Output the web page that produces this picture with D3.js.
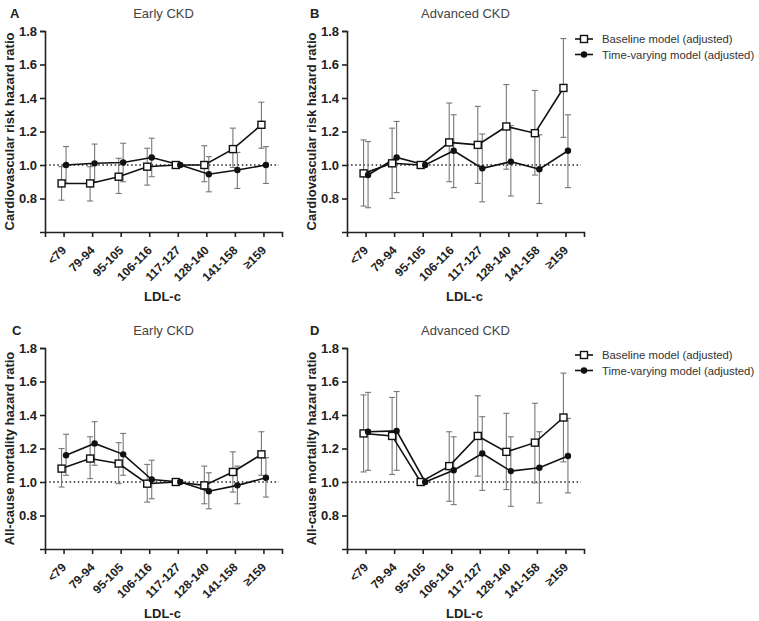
<!DOCTYPE html>
<html>
<head>
<meta charset="utf-8">
<script src="https://cdn.jsdelivr.net/npm/d3@7"></script>
<style>
    body { margin: 0; background: #fff; }
    svg { font-family: "Liberation Sans", Arial, sans-serif; }
</style>
</head>
<body>
<div class="chart-container"></div>
<script>
// LDL-c groups
const categories = ['<79', '79-94', '95-105', '106-116', '117-127', '128-140', '141-158', '≥159']
const yTicks = [0.8, 1.0, 1.2, 1.4, 1.6, 1.8]

// A - cardiovascular risk, early CKD
const cvEarlyBase = [0.89, 0.89, 0.93, 0.99, 1.00, 1.00, 1.095, 1.24]
const cvEarlyBaseLo = [0.79, 0.785, 0.83, 0.88, 1.00, 0.90, 0.985, 1.10]
const cvEarlyBaseHi = [0.99, 0.99, 1.04, 1.10, 1.00, 1.115, 1.22, 1.375]
const cvEarlyTv = [1.00, 1.01, 1.015, 1.045, 1.00, 0.945, 0.97, 1.00]
const cvEarlyTvLo = [0.89, 0.90, 0.90, 0.93, 1.00, 0.84, 0.86, 0.89]
const cvEarlyTvHi = [1.11, 1.125, 1.13, 1.16, 1.00, 1.05, 1.075, 1.11]

// B - cardiovascular risk, advanced CKD
const cvAdvBase = [0.95, 1.01, 1.00, 1.135, 1.12, 1.23, 1.19, 1.46]
const cvAdvBaseLo = [0.755, 0.80, 1.00, 0.90, 0.89, 0.975, 0.94, 1.165]
const cvAdvBaseHi = [1.15, 1.22, 1.00, 1.37, 1.35, 1.48, 1.445, 1.755]
const cvAdvTv = [0.94, 1.045, 1.00, 1.085, 0.98, 1.02, 0.975, 1.085]
const cvAdvTvLo = [0.745, 0.835, 1.00, 0.865, 0.78, 0.815, 0.77, 0.865]
const cvAdvTvHi = [1.14, 1.26, 1.00, 1.30, 1.185, 1.235, 1.18, 1.30]

// C - all-cause mortality, early CKD
const mortEarlyBase = [1.08, 1.14, 1.11, 0.99, 1.00, 0.98, 1.06, 1.165]
const mortEarlyBaseLo = [0.97, 1.02, 0.99, 0.88, 1.00, 0.87, 0.94, 1.04]
const mortEarlyBaseHi = [1.20, 1.27, 1.235, 1.105, 1.00, 1.095, 1.18, 1.30]
const mortEarlyTv = [1.16, 1.23, 1.165, 1.015, 1.00, 0.945, 0.98, 1.025]
const mortEarlyTvLo = [1.04, 1.10, 1.04, 0.90, 1.00, 0.84, 0.87, 0.91]
const mortEarlyTvHi = [1.285, 1.36, 1.29, 1.13, 1.00, 1.055, 1.095, 1.145]

// D - all-cause mortality, advanced CKD
const mortAdvBase = [1.29, 1.275, 1.00, 1.095, 1.275, 1.18, 1.235, 1.385]
const mortAdvBaseLo = [1.06, 1.045, 1.00, 0.885, 1.035, 0.955, 0.995, 1.12]
const mortAdvBaseHi = [1.52, 1.505, 1.00, 1.30, 1.515, 1.41, 1.47, 1.65]
const mortAdvTv = [1.30, 1.305, 1.00, 1.07, 1.17, 1.065, 1.085, 1.155]
const mortAdvTvLo = [1.07, 1.07, 1.00, 0.865, 0.95, 0.855, 0.875, 0.935]
const mortAdvTvHi = [1.535, 1.54, 1.00, 1.27, 1.39, 1.27, 1.30, 1.38]

const legendLabels = ['Baseline model (adjusted)', 'Time-varying model (adjusted)']

const svg = d3.select(".chart-container")
    .append('svg')
    .attr('width', 759)
    .attr('height', 621)

const panelDims = { width: 237, height: 201 }

function toRows(mid, lo, hi) {
    return categories.map((c, i) => ({ cat: c, v: mid[i], lo: lo[i], hi: hi[i] }))
}

function drawPanel(opts) {
    const g = svg.append('g')
        .attr('transform', `translate(${opts.left},${opts.top})`)

    const xScale = d3.scalePoint()
        .domain(categories)
        .range([0, panelDims.width])
        .padding(0.65)

    const yScale = d3.scaleLinear()
        .domain([0.6, 1.8])
        .range([panelDims.height, 0])

    // reference line at HR = 1
    g.append('line')
        .attr('x1', 0)
        .attr('x2', panelDims.width - 3)
        .attr('y1', yScale(1))
        .attr('y2', yScale(1))
        .attr('stroke', '#222')
        .attr('stroke-width', 1.5)
        .attr('stroke-dasharray', '1.5,2.6')

// Axes
    const xAxis = d3.axisBottom(xScale).tickSizeOuter(0).tickSize(5)
    const xAxisGroup = g.append('g')
        .attr('transform', `translate(0,${panelDims.height})`)
        .call(xAxis)
    xAxisGroup.selectAll('path, line').attr('stroke', '#222').attr('stroke-width', 1.6)
    xAxisGroup.selectAll('text')
        .attr('y', 0)
        .attr('x', 0)
        .attr('dy', '0.35em')
        .attr('text-anchor', 'end')
        .attr('transform', 'translate(0,16) rotate(-45)')
        .attr('font-size', '12px')
        .attr('font-weight', 'bold')
        .attr('fill', '#222')

    const yAxis = d3.axisLeft(yScale).tickValues(yTicks).tickFormat(d3.format('.1f')).tickSizeOuter(0).tickSize(5)
    const yAxisGroup = g.append('g').call(yAxis)
    yAxisGroup.selectAll('path, line').attr('stroke', '#222').attr('stroke-width', 1.6)
    yAxisGroup.selectAll('text')
        .attr('font-size', '13px')
        .attr('font-weight', 'bold')
        .attr('fill', '#222')

// Labels
    g.append('text')
        .attr('x', panelDims.width / 2 - 1)
        .attr('y', panelDims.height + 69)
        .attr('font-size', '13px')
        .attr('font-weight', 'bold')
        .attr('text-anchor', 'middle')
        .attr('fill', '#222')
        .text('LDL-c')

    g.append('text')
        .attr('transform', `translate(-31,${panelDims.height / 2}) rotate(-90)`)
        .attr('font-size', '13px')
        .attr('font-weight', 'bold')
        .attr('text-anchor', 'middle')
        .attr('fill', '#222')
        .text(opts.yLabel)

    g.append('text')
        .attr('x', panelDims.width / 2)
        .attr('y', -13)
        .attr('font-size', '13px')
        .attr('text-anchor', 'middle')
        .attr('fill', '#444')
        .text(opts.title)

    g.append('text')
        .attr('x', opts.letterX)
        .attr('y', -13)
        .attr('font-size', '13px')
        .attr('font-weight', 'bold')
        .attr('fill', '#222')
        .text(opts.letter)

// Data series
    const series = [
        { rows: toRows(opts.base, opts.baseLo, opts.baseHi), shift: -2, kind: 'square' },
        { rows: toRows(opts.tv, opts.tvLo, opts.tvHi), shift: 2.5, kind: 'circle' }
    ]

    series.forEach(s => {
        const px = d => xScale(d.cat) + s.shift
        const bars = g.append('g')
            .selectAll('g')
            .data(s.rows.filter(d => d.hi > d.lo))
            .join('g')
            .attr('stroke', '#777')
            .attr('stroke-width', 1.1)
        bars.append('line')
            .attr('x1', px).attr('x2', px)
            .attr('y1', d => yScale(d.lo)).attr('y2', d => yScale(d.hi))
        bars.append('line')
            .attr('x1', d => px(d) - 3).attr('x2', d => px(d) + 3)
            .attr('y1', d => yScale(d.lo)).attr('y2', d => yScale(d.lo))
        bars.append('line')
            .attr('x1', d => px(d) - 3).attr('x2', d => px(d) + 3)
            .attr('y1', d => yScale(d.hi)).attr('y2', d => yScale(d.hi))
    })

    series.forEach(s => {
        const line = d3.line()
            .x(d => xScale(d.cat) + s.shift)
            .y(d => yScale(d.v))
        g.append('path')
            .datum(s.rows)
            .attr('d', line)
            .attr('fill', 'none')
            .attr('stroke', '#111')
            .attr('stroke-width', 1.6)
    })

    series.forEach(s => {
        if (s.kind === 'square') {
            g.append('g').selectAll('rect')
                .data(s.rows)
                .join('rect')
                .attr('x', d => xScale(d.cat) + s.shift - 3.5)
                .attr('y', d => yScale(d.v) - 3.5)
                .attr('width', 7)
                .attr('height', 7)
                .attr('fill', '#fff')
                .attr('stroke', '#111')
                .attr('stroke-width', 1.4)
        } else {
            g.append('g').selectAll('circle')
                .data(s.rows)
                .join('circle')
                .attr('cx', d => xScale(d.cat) + s.shift)
                .attr('cy', d => yScale(d.v))
                .attr('r', 3.2)
                .attr('fill', '#111')
        }
    })

// Legend
    if (opts.legend) {
        const lg = g.append('g')
            .attr('transform', `translate(${panelDims.width - 9},${opts.legendY})`)
        legendLabels.forEach((lab, i) => {
            const row = lg.append('g').attr('transform', `translate(0,${i * 15.5})`)
            row.append('line')
                .attr('x1', 0).attr('x2', 18)
                .attr('y1', 0).attr('y2', 0)
                .attr('stroke', '#111')
                .attr('stroke-width', 1.6)
            if (i === 0) {
                row.append('rect')
                    .attr('x', 5.5).attr('y', -3.5)
                    .attr('width', 7).attr('height', 7)
                    .attr('fill', '#fff')
                    .attr('stroke', '#111')
                    .attr('stroke-width', 1.4)
            } else {
                row.append('circle')
                    .attr('cx', 9).attr('cy', 0).attr('r', 3.2)
                    .attr('fill', '#111')
            }
            row.append('text')
                .attr('x', 27)
                .attr('y', 4)
                .attr('font-size', '11.3px')
                .attr('fill', '#333')
                .text(lab)
        })
    }
}

drawPanel({
    left: 45, top: 31, letter: 'A', letterX: -35, title: 'Early CKD',
    yLabel: 'Cardiovascular risk hazard ratio',
    base: cvEarlyBase, baseLo: cvEarlyBaseLo, baseHi: cvEarlyBaseHi,
    tv: cvEarlyTv, tvLo: cvEarlyTvLo, tvHi: cvEarlyTvHi
})

drawPanel({
    left: 347, top: 31, letter: 'B', letterX: -37, title: 'Advanced CKD',
    yLabel: 'Cardiovascular risk hazard ratio',
    base: cvAdvBase, baseLo: cvAdvBaseLo, baseHi: cvAdvBaseHi,
    tv: cvAdvTv, tvLo: cvAdvTvLo, tvHi: cvAdvTvHi,
    legend: true, legendY: 8
})

drawPanel({
    left: 45, top: 348, letter: 'C', letterX: -33, title: 'Early CKD',
    yLabel: 'All-cause mortality hazard ratio',
    base: mortEarlyBase, baseLo: mortEarlyBaseLo, baseHi: mortEarlyBaseHi,
    tv: mortEarlyTv, tvLo: mortEarlyTvLo, tvHi: mortEarlyTvHi
})

drawPanel({
    left: 347, top: 348, letter: 'D', letterX: -37, title: 'Advanced CKD',
    yLabel: 'All-cause mortality hazard ratio',
    base: mortAdvBase, baseLo: mortAdvBaseLo, baseHi: mortAdvBaseHi,
    tv: mortAdvTv, tvLo: mortAdvTvLo, tvHi: mortAdvTvHi,
    legend: true, legendY: 7
})
</script>
</body>
</html>
